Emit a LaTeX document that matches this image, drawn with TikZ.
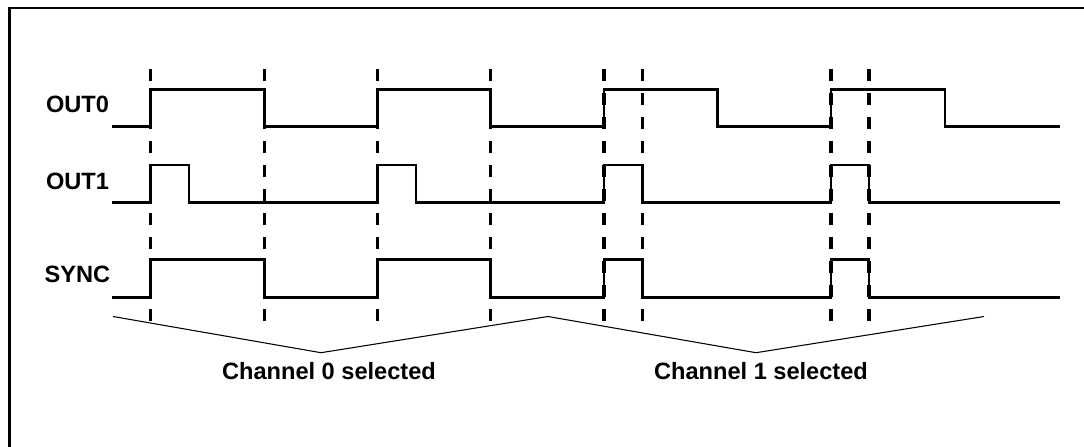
\documentclass[tikz,border=0pt]{standalone}
\usepackage{fontspec}
\setmainfont{Liberation Sans}
\usetikzlibrary{positioning,calc}

\tikzset{
  signal/.style={line width=2pt},
  marker/.style={line width=2.4pt, dash pattern=on 9pt off 9pt},
  signame/.style={font=\fontsize{17.7}{20}\selectfont\bfseries, inner sep=0pt, anchor=base},
  brace/.style={line width=0.8pt},
}

\begin{document}
\begin{tikzpicture}[x=0.75pt, y=-0.75pt]
  \useasboundingbox (0,0) rectangle (1084,446);
  \draw[line width=2pt] (9.5,447) -- (9.5,8) -- (1085,8);

  % signal names
  \node[signame] (out0) at (77.5,112.7) {OUT0};
  \node[signame] (out1) at (77.5,189.3) {OUT1};
  \node[signame] (sync) at (77.5,282.7) {SYNC};

  % edge markers
  \foreach \x in {150.7,264.3,377.3,490.5,604,642.4,831,869}
    \draw[marker] (\x,69) -- (\x,321);

  % waveforms
  \draw[signal] (112,126.7) -| (150.7,89.3) -| (264.3,126.7) -| (377.3,89.3)
    -| (490.5,126.7) -| (604,89.3) -| (717.5,126.7) -| (831,89.3)
    -| (945,126.7) -- (1059.5,126.7);
  \draw[signal] (112,202.7) -| (150.7,165) -| (189,202.7) -| (377.3,165)
    -| (416,202.7) -| (604,165) -| (642.4,202.7) -| (831,165)
    -| (869,202.7) -- (1059.5,202.7);
  \draw[signal] (112,297.3) -| (150.7,259.3) -| (264.3,297.3) -| (377.3,259.3)
    -| (490.5,297.3) -| (604,259.3) -| (642.4,297.3) -| (831,259.3)
    -| (869,297.3) -- (1059.5,297.3);

  % channel braces
  \coordinate (b0) at (113,316.5);
  \coordinate (b1) at (321,352.7);
  \coordinate (b2) at (548,316.5);
  \coordinate (b3) at (756,352.7);
  \coordinate (b4) at (984,316.5);
  \draw[brace] (b0) -- (b1) -- (b2) -- (b3) -- (b4);

  \node[signame] (ch0) at (329,379.5) {Channel 0 selected};
  \node[signame] (ch1) at (761,379.5) {Channel 1 selected};
\end{tikzpicture}
\end{document}
